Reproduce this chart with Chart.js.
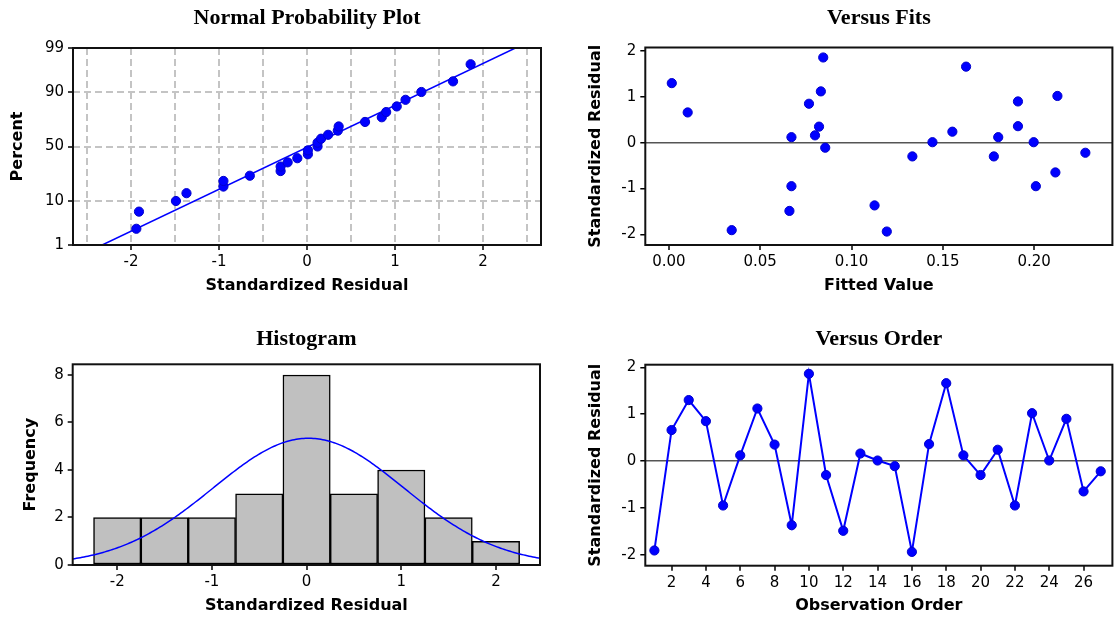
<!DOCTYPE html>
<html>
<head>
<meta charset="utf-8">
<script src="https://cdn.jsdelivr.net/npm/chart.js@4.4.1/dist/chart.umd.min.js"></script>
<style>
  html, body { margin: 0; padding: 0; background: #fff; }
  #wrap { position: relative; width: 1118px; height: 621px; overflow: hidden; }
  canvas { position: absolute; }
</style>
</head>
<body>
<div id="wrap">
  <canvas id="cNormal" width="559" height="310" style="left:0;top:0"></canvas>
  <canvas id="cFits" width="559" height="310" style="left:559px;top:0"></canvas>
  <canvas id="cHist" width="559" height="311" style="left:0;top:310px"></canvas>
  <canvas id="cOrder" width="559" height="311" style="left:559px;top:310px"></canvas>
</div>
<script>
// 1. Data
const observations = [1, 2, 3, 4, 5, 6, 7, 8, 9, 10, 11, 12, 13, 14, 15, 16, 17, 18, 19, 20, 21, 22, 23, 24, 25, 26, 27];
const residuals = [-1.91, 0.66, 1.30, 0.85, -0.95, 0.12, 1.12, 0.35, -1.37, 1.86, -0.30, -1.49, 0.16, 0.01,
                   -0.11, -1.94, 0.36, 1.66, 0.12, -0.30, 0.24, -0.95, 1.02, 0.01, 0.90, -0.65, -0.22];
const fittedValues = [0.0344, 0.0103, 0.0016, 0.0767, 0.0671, 0.0671, 0.0832, 0.0822, 0.1126, 0.0845, 0.1333,
                      0.0660, 0.0800, 0.1443, 0.0856, 0.1193, 0.1911, 0.1627, 0.1803, 0.1779, 0.1552, 0.2009,
                      0.2127, 0.1997, 0.1911, 0.2116, 0.2280];
const normalPercents = [2.6, 6.2, 9.9, 13.5, 17.2, 20.8, 24.5, 28.1, 31.8, 35.4, 39.1, 42.7, 46.4, 50.0,
                        53.6, 57.3, 60.9, 64.6, 68.2, 71.9, 75.5, 79.2, 82.8, 86.5, 90.1, 93.8, 97.4];
const histMids = [-2, -1.5, -1, -0.5, 0, 0.5, 1, 1.5, 2];
const histCounts = [2, 2, 2, 3, 8, 3, 4, 2, 1];

const percentTicks = [1, 10, 50, 90, 99];
const normalXTicks = [-2.5, -2, -1.5, -1, -0.5, 0, 0.5, 1, 1.5, 2, 2.5];
const residTicks = [-2, -1, 0, 1, 2];
const fitTicks = [0, 0.05, 0.10, 0.15, 0.20];
const histXTicks = [-2, -1, 0, 1, 2];
const freqTicks = [0, 2, 4, 6, 8];
const orderTicks = [2, 4, 6, 8, 10, 12, 14, 16, 18, 20, 22, 24, 26];

// 2. Helpers
const BLUE = '#0000ff';
const tickFont = { family: 'DejaVu Sans', size: 15 };
const axisFont = { family: 'DejaVu Sans', size: 16, weight: 'bold' };
const titleFont = { family: 'Liberation Serif', size: 22, weight: 'bold' };

function normInv(p) {
    const a = [-39.69683028665376, 220.9460984245205, -275.9285104469687, 138.3577518672690, -30.66479806614716, 2.506628277459239];
    const b = [-54.47609879822406, 161.5858368580409, -155.6989798598866, 66.80131188771972, -13.28068155288572];
    const c = [-0.007784894002430293, -0.3223964580411365, -2.400758277161838, -2.549732539343734, 4.374664141464968, 2.938163982698783];
    const d = [0.007784695709041462, 0.3224671290700398, 2.445134137142996, 3.754408661907416];
    let q, r;
    if (p < 0.02425) {
        q = Math.sqrt(-2 * Math.log(p));
        return (((((c[0] * q + c[1]) * q + c[2]) * q + c[3]) * q + c[4]) * q + c[5]) / ((((d[0] * q + d[1]) * q + d[2]) * q + d[3]) * q + 1);
    }
    if (p > 1 - 0.02425) {
        return -normInv(1 - p);
    }
    q = p - 0.5;
    r = q * q;
    return (((((a[0] * r + a[1]) * r + a[2]) * r + a[3]) * r + a[4]) * r + a[5]) * q / (((((b[0] * r + b[1]) * r + b[2]) * r + b[3]) * r + b[4]) * r + 1);
}

const n = residuals.length;
const mean = residuals.reduce((s, v) => s + v, 0) / n;
const sd = Math.sqrt(residuals.reduce((s, v) => s + (v - mean) * (v - mean), 0) / (n - 1));

// frame around the plot area
const frame = {
    id: 'frame',
    afterDraw(chart) {
        const { ctx, chartArea: a } = chart;
        ctx.save();
        ctx.strokeStyle = '#111';
        ctx.lineWidth = 2;
        ctx.strokeRect(a.left, a.top, a.right - a.left, a.bottom - a.top);
        ctx.restore();
    }
};

function fixedTicks(list) {
    return scale => { scale.ticks = list.map(v => ({ value: v })); };
}

function xAxis(opts) {
    return {
        type: 'linear',
        min: opts.min,
        max: opts.max,
        offset: false,
        afterBuildTicks: fixedTicks(opts.ticks),
        afterFit: s => { s.height = opts.height; },
        grid: {
            offset: false,
            color: opts.gridColor || 'rgba(0,0,0,0)',
            lineWidth: 2,
            tickLength: 5,
            tickWidth: 1.5,
            tickColor: opts.tickColor || '#000'
        },
        border: { display: false, dash: opts.dash || [] },
        ticks: { font: tickFont, color: '#000', padding: 3, maxRotation: 0, autoSkip: false, callback: opts.label },
        title: { display: true, text: opts.title, font: axisFont, color: '#000', padding: { top: 0, bottom: opts.titlePad } }
    };
}

function yAxis(opts) {
    return {
        type: 'linear',
        min: opts.min,
        max: opts.max,
        afterBuildTicks: fixedTicks(opts.ticks),
        afterFit: s => { s.width = opts.width; },
        grid: {
            color: opts.gridColor || 'rgba(0,0,0,0)',
            lineWidth: opts.gridWidth || 2,
            tickLength: 5,
            tickWidth: 1.5,
            tickColor: '#000'
        },
        border: { display: false, dash: opts.dash || [] },
        ticks: { font: tickFont, color: '#000', padding: 4, autoSkip: false, callback: opts.label },
        title: { display: true, text: opts.title, font: axisFont, color: '#000', padding: { top: opts.titlePad, bottom: 0 } }
    };
}

function basePlugins(title, padTop, padBottom) {
    return {
        legend: { display: false },
        tooltip: { enabled: false },
        title: { display: true, text: title, font: titleFont, color: '#000', fullSize: false, padding: { top: padTop, bottom: padBottom } }
    };
}

const pointStyle = { pointRadius: 4.6, pointBackgroundColor: BLUE, pointBorderColor: '#0000cc', pointBorderWidth: 1 };

// 3. Normal probability plot
const zMin = normInv(percentTicks[0] / 100);
const zMax = normInv(percentTicks[percentTicks.length - 1] / 100);
const sortedResiduals = residuals.slice().sort((p, q) => p - q);

new Chart(document.getElementById('cNormal'), {
    type: 'scatter',
    data: {
        datasets: [{
            data: sortedResiduals.map((v, i) => ({ x: v, y: normInv(normalPercents[i] / 100) })),
            ...pointStyle
        }, {
            data: [{ x: mean + sd * zMin, y: zMin }, { x: mean + sd * zMax, y: zMax }],
            showLine: true, borderColor: BLUE, borderWidth: 1.5, pointRadius: 0
        }]
    },
    options: {
        responsive: false, animation: false,
        layout: { padding: { left: 0, right: 18, top: 0, bottom: 0 } },
        plugins: basePlugins('Normal Probability Plot', 4.8, 16.8),
        scales: {
            x: xAxis({
                min: -2.66, max: 2.66, ticks: normalXTicks, height: 65, title: 'Standardized Residual', titlePad: 14.4,
                gridColor: '#c4c4c4', dash: [7, 4],
                tickColor: ctx => Number.isInteger(ctx.tick.value) ? '#000' : 'rgba(0,0,0,0)',
                label: v => Number.isInteger(v) ? String(v) : ''
            }),
            y: yAxis({
                min: zMin, max: zMax, ticks: percentTicks.map(p => normInv(p / 100)), width: 73,
                title: 'Percent', titlePad: 8.7, dash: [7, 4],
                gridColor: ctx => (ctx.index === 0 || ctx.index === percentTicks.length - 1) ? 'rgba(0,0,0,0)' : '#c4c4c4',
                label: (v, i) => String(percentTicks[i])
            })
        }
    },
    plugins: [frame]
});

// 4. Versus fits
new Chart(document.getElementById('cFits'), {
    type: 'scatter',
    data: {
        datasets: [{
            data: fittedValues.map((f, i) => ({ x: f, y: residuals[i] })),
            ...pointStyle
        }]
    },
    options: {
        responsive: false, animation: false,
        layout: { padding: { left: 0, right: 1.5, top: 0, bottom: 0 } },
        plugins: basePlugins('Versus Fits', 4.8, 16.3),
        scales: {
            x: xAxis({
                min: -0.0129, max: 0.2428, ticks: fitTicks, height: 65, title: 'Fitted Value', titlePad: 14.4,
                label: v => v.toFixed(2)
            }),
            y: yAxis({
                min: -2.234, max: 2.078, ticks: residTicks, width: 86.3, title: 'Standardized Residual', titlePad: 26.9,
                gridColor: ctx => ctx.tick.value === 0 ? '#555' : 'rgba(0,0,0,0)', gridWidth: 1.5,
                label: v => String(v)
            })
        }
    },
    plugins: [frame]
});

// 5. Histogram
const histCurve = [];
for (let x = -2.47; x <= 2.4701; x += 0.02) {
    const zz = (x - mean) / sd;
    histCurve.push({ x: x, y: n * 0.5 * Math.exp(-0.5 * zz * zz) / (sd * Math.sqrt(2 * Math.PI)) });
}

new Chart(document.getElementById('cHist'), {
    type: 'bar',
    data: {
        datasets: [{
            type: 'line',
            data: histCurve,
            borderColor: BLUE, borderWidth: 1.5, pointRadius: 0, order: 0
        }, {
            type: 'bar',
            data: histMids.map((m, i) => ({ x: m, y: histCounts[i] })),
            backgroundColor: '#c0c0c0', borderColor: '#000', borderWidth: 1.5, borderSkipped: false,
            barPercentage: 1, categoryPercentage: 1, order: 1
        }]
    },
    options: {
        responsive: false, animation: false,
        layout: { padding: { left: 0, right: 19, top: 0, bottom: 0 } },
        plugins: basePlugins('Histogram', 15.8, 12.1),
        scales: {
            x: xAxis({
                min: -2.47, max: 2.465, ticks: histXTicks, height: 56, title: 'Standardized Residual', titlePad: 5.4,
                label: v => String(v)
            }),
            y: yAxis({
                min: 0, max: 8.45, ticks: freqTicks, width: 72.7, title: 'Frequency', titlePad: 21.7,
                label: v => String(v)
            })
        }
    },
    plugins: [frame]
});

// 6. Versus order
new Chart(document.getElementById('cOrder'), {
    type: 'line',
    data: {
        datasets: [{
            data: observations.map((o, i) => ({ x: o, y: residuals[i] })),
            borderColor: BLUE, borderWidth: 2, tension: 0,
            ...pointStyle
        }]
    },
    options: {
        responsive: false, animation: false,
        layout: { padding: { left: 0, right: 1.3, top: 0, bottom: 0 } },
        plugins: basePlugins('Versus Order', 15.8, 12.5),
        scales: {
            x: xAxis({
                min: 0.47, max: 27.68, ticks: orderTicks, height: 55.3, title: 'Observation Order', titlePad: 5.4,
                label: v => String(v)
            }),
            y: yAxis({
                min: -2.235, max: 2.055, ticks: residTicks, width: 86.3, title: 'Standardized Residual', titlePad: 26.9,
                gridColor: ctx => ctx.tick.value === 0 ? '#555' : 'rgba(0,0,0,0)', gridWidth: 1.5,
                label: v => String(v)
            })
        }
    },
    plugins: [frame]
});
</script>
</body>
</html>
